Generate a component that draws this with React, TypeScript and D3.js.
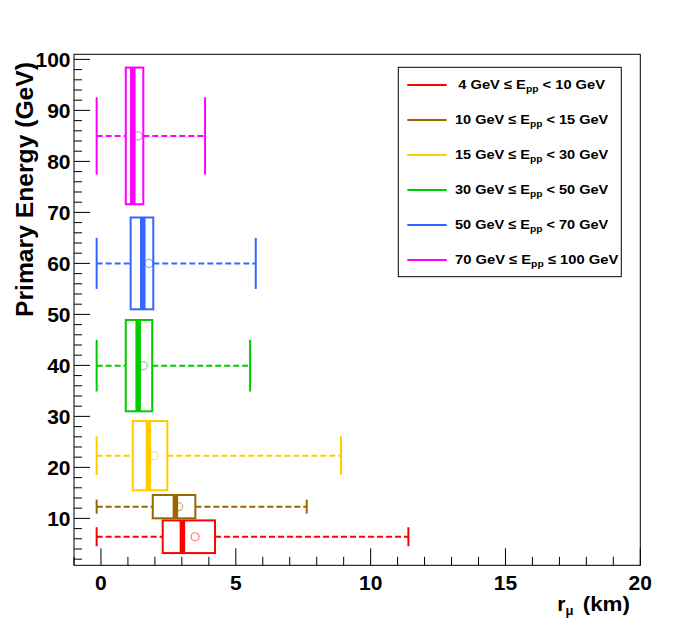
import React from "react";
import * as d3 from "d3";

// ---- data ----
const eLow = [4, 10, 15, 30, 50, 70];
const eHigh = [10, 15, 30, 50, 70, 100];
const highOp = ["<", "<", "<", "<", "<", "≤"];
const colors = ["#ff0000", "#996600", "#ffcc00", "#00cc00", "#3366ff", "#ff00ff"];
const binCenter = [6.4, 12.3, 22.3, 39.95, 60.0, 85.0];
const boxWidth = [6.4, 4.57, 13.59, 17.9, 18.0, 26.8];
const capWidth = [3.72, 2.75, 7.59, 10.14, 10.0, 15.17];
const whiskerLow = [-0.16, -0.16, -0.16, -0.16, -0.16, -0.16];
const q1 = [2.29, 1.92, 1.18, 0.92, 1.1, 0.92];
const median = [3.02, 2.76, 1.76, 1.38, 1.55, 1.18];
const q3 = [4.23, 3.5, 2.46, 1.9, 1.94, 1.57];
const whiskerHigh = [11.4, 7.63, 8.9, 5.53, 5.74, 3.86];
const mean = [3.49, 2.88, 1.97, 1.57, 1.78, 1.38];
const xMajor = [0, 5, 10, 15, 20];
const yMajor = [10, 20, 30, 40, 50, 60, 70, 80, 90, 100];
const xTitle = ["r", "μ", "(km)"];
const yTitle = "Primary Energy (GeV)";

const W = 682;
const H = 630;
const FONT = "'Liberation Sans', Arial, Helvetica, sans-serif";

export default function App() {
  const x = d3.scaleLinear().domain([-1, 20]).range([74, 640.3]);
  const y = d3.scaleLinear().domain([0.8, 101]).range([565.3, 54.3]);
  const [x0, x1] = x.range();
  const [y0, y1] = y.range();
  const xMinor = d3.range(-1, 20.5, 1).filter((v) => !xMajor.includes(v));
  const yMinor = d3.range(2, 101, 2).filter((v) => !yMajor.includes(v));

  const legendLeft = 398.3;
  const legendTop = 67.3;
  const legendW = 223;
  const legendH = 209.4;
  const rowY = (i: number) => 85 + i * 35;
  const textStart = [458.3, 455, 455, 455, 455, 455];
  const textLen = [146.7, 153.3, 153.3, 153.3, 153.3, 163.3];

  return (
    <svg
      width={W}
      height={H}
      style={{ position: "absolute", left: 0, top: 0, background: "#fff" }}
      fontFamily={FONT}
      fontWeight="bold"
    >
      <rect x={0} y={0} width={W} height={H} fill="#fff" />
      {/* candles */}
      {binCenter.map((c, i) => {
        const col = colors[i];
        const yc = y(c);
        const bt = y(c + boxWidth[i] / 2);
        const bb = y(c - boxWidth[i] / 2);
        const ct = y(c + capWidth[i] / 2);
        const cb = y(c - capWidth[i] / 2);
        return (
          <g key={i}>
            <line x1={x(whiskerLow[i])} x2={x(q1[i])} y1={yc} y2={yc} stroke={col} strokeWidth={2} strokeDasharray="6,3" />
            <line x1={x(q3[i])} x2={x(whiskerHigh[i])} y1={yc} y2={yc} stroke={col} strokeWidth={2} strokeDasharray="6,3" />
            <line x1={x(whiskerLow[i])} x2={x(whiskerLow[i])} y1={ct} y2={cb} stroke={col} strokeWidth={2} />
            <line x1={x(whiskerHigh[i])} x2={x(whiskerHigh[i])} y1={ct} y2={cb} stroke={col} strokeWidth={2} />
            <rect x={x(q1[i])} y={bt} width={x(q3[i]) - x(q1[i])} height={bb - bt} fill="none" stroke={col} strokeWidth={2} />
            <circle cx={x(mean[i])} cy={yc} r={4} fill="none" stroke={col} strokeOpacity={0.55} strokeWidth={1.2} />
            <line x1={x(median[i])} x2={x(median[i])} y1={bt} y2={bb} stroke={col} strokeWidth={5.5} />
          </g>
        );
      })}

      {/* frame */}
      <rect x={x0} y={y1} width={x1 - x0} height={y0 - y1} fill="none" stroke="#000" strokeWidth={1} />

      {/* x ticks */}
      {xMajor.map((v) => (
        <g key={"xm" + v}>
          <line x1={x(v)} x2={x(v)} y1={y0} y2={y0 - 17} stroke="#000" strokeWidth={1} />
          <text x={x(v)} y={589.5} textAnchor="middle" fontSize={21}>
            {v}
          </text>
        </g>
      ))}
      {xMinor.map((v) => (
        <line key={"xn" + v} x1={x(v)} x2={x(v)} y1={y0} y2={y0 - 8.5} stroke="#000" strokeWidth={1} />
      ))}

      {/* y ticks */}
      {yMajor.map((v) => (
        <g key={"ym" + v}>
          <line x1={x0} x2={x0 + 16} y1={y(v)} y2={y(v)} stroke="#000" strokeWidth={1} />
          <text x={70.5} y={y(v) + 7.5} textAnchor="end" fontSize={21}>
            {v}
          </text>
        </g>
      ))}
      {yMinor.map((v) => (
        <line key={"yn" + v} x1={x0} x2={x0 + 8} y1={y(v)} y2={y(v)} stroke="#000" strokeWidth={1} />
      ))}

      {/* axis titles */}
      <text transform="rotate(-90)" x={-189.5} y={32.7} textAnchor="middle" fontSize={23} textLength={255} lengthAdjust="spacingAndGlyphs">
        {yTitle}
      </text>
      <text x={557.3} y={611} fontSize={21}>
        {xTitle[0]}
        <tspan fontSize={13} dy={4}>
          {xTitle[1]}
        </tspan>
      </text>
      <text x={582.7} y={611} fontSize={21} textLength={47.3} lengthAdjust="spacingAndGlyphs">
        {xTitle[2]}
      </text>

      {/* legend */}
      <rect x={legendLeft} y={legendTop} width={legendW} height={legendH} fill="#fff" stroke="#000" strokeWidth={1} />
      {eLow.map((lo, i) => (
        <g key={"lg" + i}>
          <line x1={407.3} x2={446.7} y1={rowY(i)} y2={rowY(i)} stroke={colors[i]} strokeWidth={2} />
          <text x={textStart[i]} y={rowY(i) + 4} fontSize={13.5} textLength={textLen[i]} lengthAdjust="spacingAndGlyphs">
            {`${lo} GeV  ≤ E`}
            <tspan fontSize={9.5} dy={3}>
              pp
            </tspan>
            <tspan dy={-3}>{` ${highOp[i]} ${eHigh[i]} GeV`}</tspan>
          </text>
        </g>
      ))}
    </svg>
  );
}
